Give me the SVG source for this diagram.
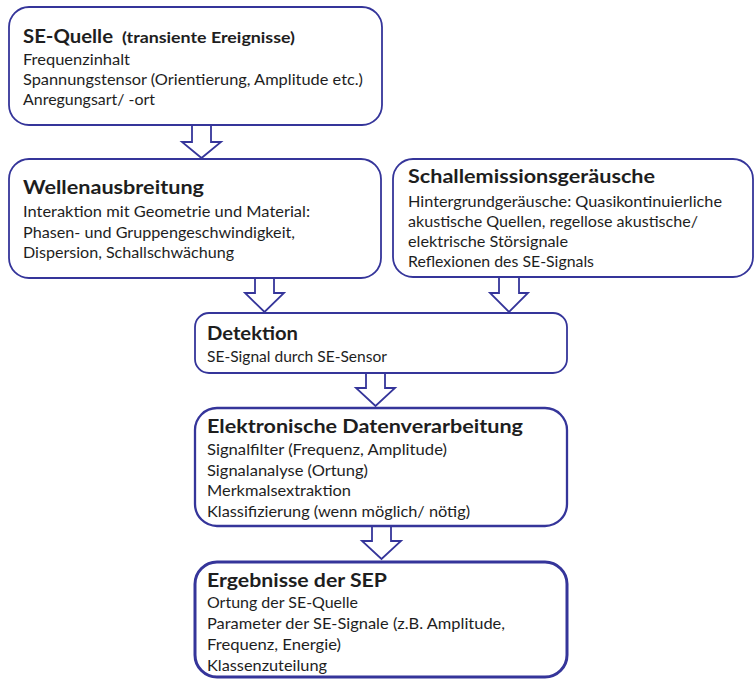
<svg xmlns="http://www.w3.org/2000/svg" width="755" height="680" viewBox="0 0 755 680">
<style>
.box{fill:#fff;stroke:#35359a;stroke-width:1.8}
.arr{fill:#fff;stroke:#35359a;stroke-width:1.8;stroke-linejoin:miter}
text{font-family:Lato,"Liberation Sans",sans-serif;fill:#1e1e1e}
.t{font-size:19.5px;font-weight:bold}
.s{font-size:15px;font-weight:bold}
.b{font-size:15px}
</style>
<rect width="755" height="680" fill="#fff"/>
<g id="connectors">
<path class="arr" d="M192,125 V142 H182 L201.5,158 L221,142 H211 V125"/>
<path class="arr" d="M255,278 V293 H245 L264.5,312 L284,293 H274 V278"/>
<path class="arr" d="M499,277 V293 H490 L509,312 L528,293 H519 V277"/>
<path class="arr" d="M366,373 V388 H356 L375.5,406 L395,388 H385 V373"/>
<path class="arr" d="M372,526 V541 H362 L381.5,559 L401,541 H391 V526"/>
</g>
<g id="se-quelle">
<rect class="box" x="9" y="7" width="373" height="118" rx="20"/>
<text class="t" x="23" y="43" textLength="90" lengthAdjust="spacingAndGlyphs">SE-Quelle</text>
<text class="s" x="122" y="43" textLength="173" lengthAdjust="spacingAndGlyphs">(transiente Ereignisse)</text>
<text class="b" x="23" y="65" textLength="107" lengthAdjust="spacingAndGlyphs">Frequenzinhalt</text>
<text class="b" x="23" y="85" textLength="340" lengthAdjust="spacingAndGlyphs">Spannungstensor (Orientierung, Amplitude etc.)</text>
<text class="b" x="23" y="105" textLength="132" lengthAdjust="spacingAndGlyphs">Anregungsart/ -ort</text>
</g>
<g id="wellenausbreitung">
<rect class="box" x="9" y="159" width="372" height="119" rx="20"/>
<text class="t" x="23" y="194" textLength="181" lengthAdjust="spacingAndGlyphs">Wellenausbreitung</text>
<text class="b" x="23" y="217" textLength="287" lengthAdjust="spacingAndGlyphs">Interaktion mit Geometrie und Material:</text>
<text class="b" x="23" y="238" textLength="272" lengthAdjust="spacingAndGlyphs">Phasen- und Gruppengeschwindigkeit,</text>
<text class="b" x="23" y="258" textLength="211" lengthAdjust="spacingAndGlyphs">Dispersion, Schallschwächung</text>
</g>
<g id="schallemissionsgeraeusche">
<rect class="box" x="393" y="159" width="360" height="118" rx="20"/>
<text class="t" x="408" y="183" textLength="247" lengthAdjust="spacingAndGlyphs">Schallemissionsgeräusche</text>
<text class="b" x="408" y="207" textLength="314" lengthAdjust="spacingAndGlyphs">Hintergrundgeräusche: Quasikontinuierliche</text>
<text class="b" x="408" y="227" textLength="290" lengthAdjust="spacingAndGlyphs">akustische Quellen, regellose akustische/</text>
<text class="b" x="408" y="247" textLength="160" lengthAdjust="spacingAndGlyphs">elektrische Störsignale</text>
<text class="b" x="408" y="267" textLength="186" lengthAdjust="spacingAndGlyphs">Reflexionen des SE-Signals</text>
</g>
<g id="detektion">
<rect class="box" x="195" y="313" width="372" height="60" rx="14"/>
<text class="t" x="207" y="340" textLength="91" lengthAdjust="spacingAndGlyphs">Detektion</text>
<text class="b" x="207" y="362" textLength="180" lengthAdjust="spacingAndGlyphs">SE-Signal durch SE-Sensor</text>
</g>
<g id="datenverarbeitung">
<rect class="box" x="195" y="408" width="372" height="118" rx="22" style="stroke-width:2.3"/>
<text class="t" x="207" y="433" textLength="316" lengthAdjust="spacingAndGlyphs">Elektronische Datenverarbeitung</text>
<text class="b" x="207" y="455" textLength="240" lengthAdjust="spacingAndGlyphs">Signalfilter (Frequenz, Amplitude)</text>
<text class="b" x="207" y="476" textLength="161" lengthAdjust="spacingAndGlyphs">Signalanalyse (Ortung)</text>
<text class="b" x="207" y="496" textLength="144" lengthAdjust="spacingAndGlyphs">Merkmalsextraktion</text>
<text class="b" x="207" y="517" textLength="263" lengthAdjust="spacingAndGlyphs">Klassifizierung (wenn möglich/ nötig)</text>
</g>
<g id="ergebnisse">
<rect class="box" x="195" y="562" width="372" height="115" rx="22" style="stroke-width:3"/>
<text class="t" x="207" y="587" textLength="180" lengthAdjust="spacingAndGlyphs">Ergebnisse der SEP</text>
<text class="b" x="207" y="608" textLength="151" lengthAdjust="spacingAndGlyphs">Ortung der SE-Quelle</text>
<text class="b" x="207" y="629" textLength="298" lengthAdjust="spacingAndGlyphs">Parameter der SE-Signale (z.B. Amplitude,</text>
<text class="b" x="207" y="650" textLength="134" lengthAdjust="spacingAndGlyphs">Frequenz, Energie)</text>
<text class="b" x="207" y="671" textLength="120" lengthAdjust="spacingAndGlyphs">Klassenzuteilung</text>
</g>
</svg>
